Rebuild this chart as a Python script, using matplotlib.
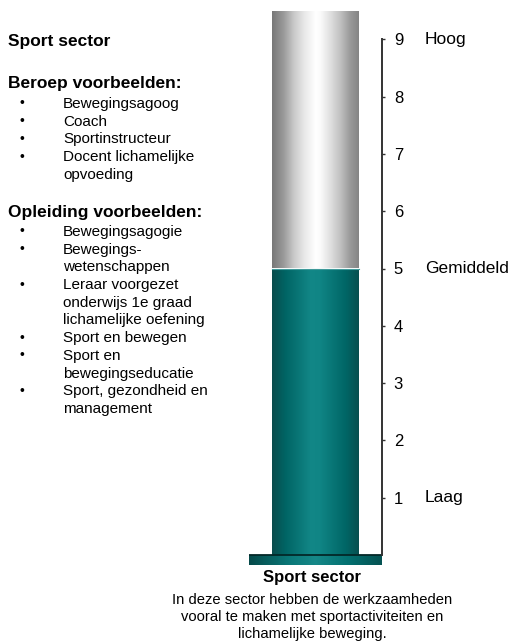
import numpy as np
import matplotlib
matplotlib.use("Agg")
import matplotlib.pyplot as plt
from matplotlib.colors import LinearSegmentedColormap

plt.rcParams['font.family'] = ['Liberation Sans', 'DejaVu Sans']

# data
sector = "Sport sector"
score = 5
scale_top = 9.5
scale_ticks = [1, 2, 3, 4, 5, 6, 7, 8, 9]
level_values = [9, 5, 1]
level_names = ["Hoog", "Gemiddeld", "Laag"]
beroep_title = "Beroep voorbeelden:"
beroepen = ["Bewegingsagoog", "Coach", "Sportinstructeur",
            "Docent lichamelijke\nopvoeding"]
opleiding_title = "Opleiding voorbeelden:"
opleidingen = ["Bewegingsagogie", "Bewegings-\nwetenschappen",
               "Leraar voorgezet\nonderwijs 1e graad\nlichamelijke oefening",
               "Sport en bewegen", "Sport en\nbewegingseducatie",
               "Sport, gezondheid en\nmanagement"]
description = ("In deze sector hebben de werkzaamheden\n"
               "vooral te maken met sportactiviteiten en\n"
               "lichamelijke beweging.")

W, H = 511, 643
fig = plt.figure(figsize=(W / 100, H / 100), dpi=100)


def fx(px):
    return px / W


def fy(py):
    return 1 - py / H


# colour ramps across the cylinder width
silver = LinearSegmentedColormap.from_list("silver", [
    (0.0, "#777777"), (0.13, "#999999"), (0.25, "#c8c8c8"), (0.37, "#e8e8e8"),
    (0.5, "#ffffff"), (0.56, "#fafafa"), (0.67, "#e0e0e0"), (0.79, "#c0c0c0"),
    (0.9, "#9a9a9a"), (1.0, "#858585")])
teal = LinearSegmentedColormap.from_list("teal", [
    (0.0, "#0a4c4c"), (0.15, "#006464"), (0.45, "#128787"), (0.55, "#108585"),
    (0.85, "#006666"), (1.0, "#084f4f")])
plate_cm = LinearSegmentedColormap.from_list("plate", [
    (0.0, "#064a4a"), (0.3, "#0a7777"), (0.5, "#168888"), (0.75, "#037070"),
    (1.0, "#065252")])

y0, y1 = -10 / 57.3, 555 / 57.3
xl = (-0.77, 0.77)
ax = fig.add_axes([fx(249), 1 - 565 / H, 133 / W, 565 / H])
grad = np.linspace(0, 1, 256).reshape(1, -1)

top_bar = ax.bar(0, scale_top - score, bottom=score, width=1, color="none")[0]
low_bar = ax.bar(0, score, width=1, color="none")[0]
im = ax.imshow(grad, cmap=silver, aspect="auto",
               extent=(-0.5, 0.5, score - 0.02, scale_top), zorder=2)
im.set_clip_path(top_bar)
im = ax.imshow(grad, cmap=teal, aspect="auto",
               extent=(-0.5, 0.5, 0, score), zorder=2)
im.set_clip_path(low_bar)
ax.plot([-0.5, 0.5], [score, score], color="#3f9a9a", lw=0.8, zorder=3)

# base plate
ax.imshow(grad, cmap=plate_cm, aspect="auto", extent=(xl[0], xl[1], y0, 0), zorder=2)
ax.plot([xl[0], xl[1]], [0, 0], color="#032828", lw=1.3, zorder=3)

ax.set_xlim(xl)
ax.set_ylim(y0, y1)
for s in ["left", "top", "bottom"]:
    ax.spines[s].set_visible(False)
ax.spines["right"].set_bounds(0, 9)
ax.spines["right"].set_color("#333333")
ax.spines["right"].set_linewidth(1.4)
ax.spines["right"].set_zorder(4)
ax.set_xticks([])
ax.yaxis.tick_right()
ax.set_yticks(scale_ticks)
ax.tick_params(axis="y", direction="out", length=2.5, width=1, pad=6,
               labelsize=12, colors="#333333", labelcolor="black")
for v, name in zip(level_values, level_names):
    ax.annotate(name, xy=(1, v), xycoords=("axes fraction", "data"),
                xytext=(31, 0), textcoords="offset points",
                va="center", ha="left", fontsize=12.5)

# left side text
step = 17.7
fig.text(fx(8), fy(46), sector, weight="bold", fontsize=12.5, va="baseline")


def bullet_block(title, items, y_title, y_first):
    fig.text(fx(8), fy(y_title), title, weight="bold", fontsize=12.5, va="baseline")
    y = y_first
    for item in items:
        fig.text(fx(21.5), fy(y - 0.5), "\u2022", fontsize=10, ha="center", va="baseline")
        for line in item.split("\n"):
            fig.text(fx(63), fy(y), line, fontsize=11, va="baseline")
            y += step


bullet_block(beroep_title, beroepen, 88, 108)
bullet_block(opleiding_title, opleidingen, 217, 236)

# caption under the cylinder
fig.text(fx(312), fy(582), sector, weight="bold", fontsize=12, ha="center", va="baseline")
for i, line in enumerate(description.split("\n")):
    fig.text(fx(312), fy(604 + i * 16.8), line, fontsize=10.6, ha="center", va="baseline")

fig.savefig("out.png", dpi=100)
